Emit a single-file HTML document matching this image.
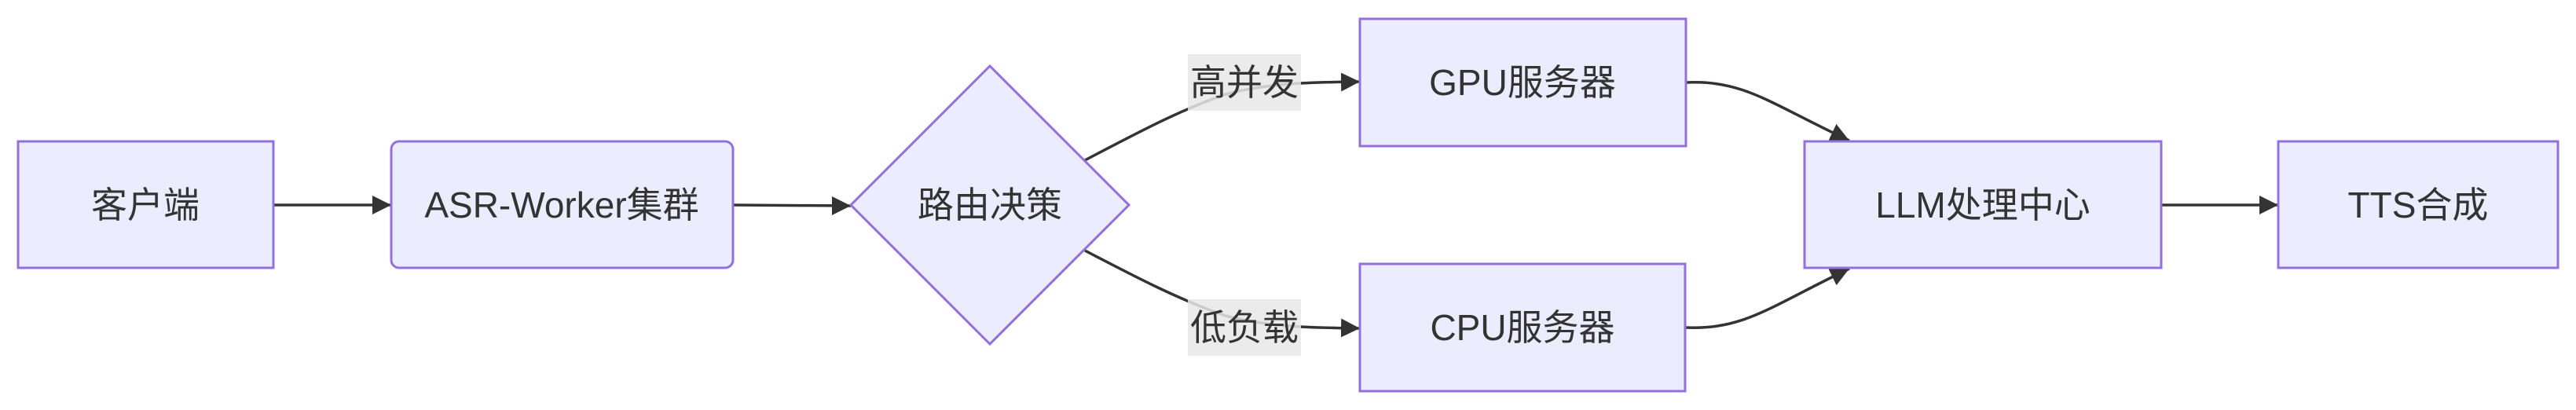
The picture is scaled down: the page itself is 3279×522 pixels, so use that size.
<!DOCTYPE html>
<html><head><meta charset="utf-8"><style>
html,body{margin:0;padding:0;background:#fff;}
svg{display:block}
text{font-family:"Liberation Sans","Noto Sans CJK SC",sans-serif;font-size:46px;fill:#333;text-anchor:middle;dominant-baseline:central;}
</style></head><body>
<svg width="3279" height="522" viewBox="0 0 3279 522" xmlns="http://www.w3.org/2000/svg">
<defs>
<marker id="a" viewBox="0 0 10 10" refX="10" refY="5" markerUnits="userSpaceOnUse" markerWidth="24" markerHeight="24" orient="auto">
<path d="M0,0 L10,5 L0,10 z" fill="#333"/>
</marker>
</defs>
<g fill="none" stroke="#333" stroke-width="3.5">
<path d="M348,261 L498,261" marker-end="url(#a)"/>
<path d="M933,261 C1000,261 1030,262 1083,262" marker-end="url(#a)"/>
<path d="M1381,204 C1450,168 1500,141 1560,120 C1620,104 1680,105 1731,104" marker-end="url(#a)"/>
<path d="M1381,319 C1450,355 1500,381 1560,402 C1620,418 1680,417 1731,418" marker-end="url(#a)"/>
<path d="M2146,105 C2220,102 2250,130 2354,179" marker-end="url(#a)"/>
<path d="M2145,417 C2220,420 2250,392 2354,342" marker-end="url(#a)"/>
<path d="M2751,261 L2900,261" marker-end="url(#a)"/>
</g>
<g fill="#ECECFF" stroke="#9370DB" stroke-width="3">
<rect x="23" y="180" width="325" height="161"/>
<rect x="498" y="180" width="435" height="161" rx="10"/>
<polygon points="1260,84 1437,261 1260,438 1083,261"/>
<rect x="1731" y="24" width="415" height="162"/>
<rect x="1731" y="336" width="414" height="162"/>
<rect x="2297" y="180" width="454" height="161"/>
<rect x="2900" y="180" width="356" height="161"/>
</g>
<rect x="1512" y="69" width="144" height="72" fill="rgba(232,232,232,0.85)"/>
<rect x="1512" y="381" width="144" height="72" fill="rgba(232,232,232,0.85)"/>
<text x="185" y="261">客户端</text>
<text x="715" y="261">ASR-Worker集群</text>
<text x="1260" y="261">路由决策</text>
<text x="1584" y="105">高并发</text>
<text x="1584" y="417">低负载</text>
<text x="1938" y="105">GPU服务器</text>
<text x="1938" y="417">CPU服务器</text>
<text x="2524" y="261">LLM处理中心</text>
<text x="3078" y="261">TTS合成</text>
</svg>
</body></html>
